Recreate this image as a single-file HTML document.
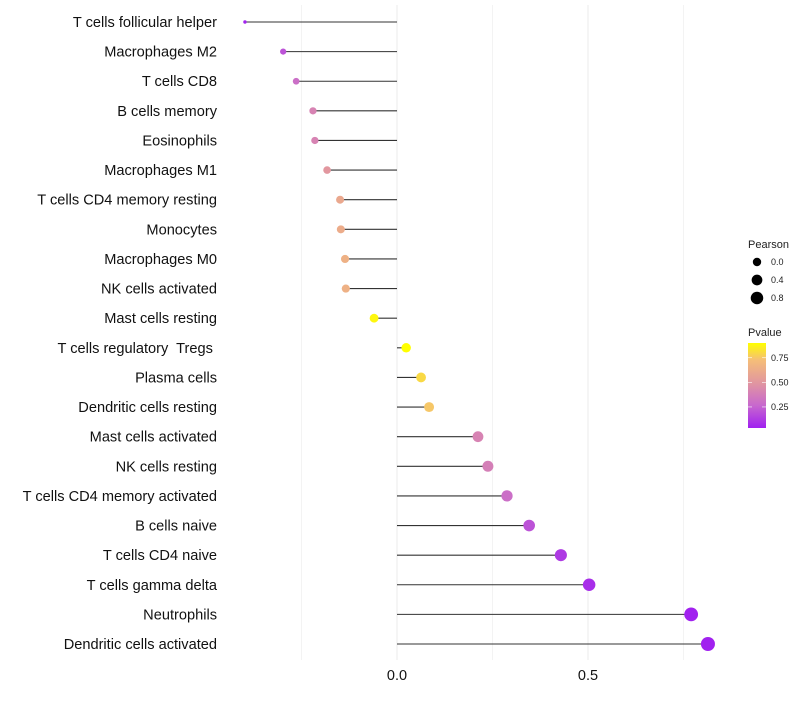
<!DOCTYPE html>
<html><head><meta charset="utf-8"><style>
body{margin:0;background:#fff;font-family:"Liberation Sans",sans-serif;}
text{white-space:pre;}
</style></head><body>
<svg id="c" width="800" height="700" xmlns="http://www.w3.org/2000/svg" font-family="Liberation Sans, sans-serif"></svg>
<script>
const categories=["T cells follicular helper","Macrophages M2","T cells CD8","B cells memory","Eosinophils","Macrophages M1","T cells CD4 memory resting","Monocytes","Macrophages M0","NK cells activated","Mast cells resting","T cells regulatory  Tregs ","Plasma cells","Dendritic cells resting","Mast cells activated","NK cells resting","T cells CD4 memory activated","B cells naive","T cells CD4 naive","T cells gamma delta","Neutrophils","Dendritic cells activated"];
const pearson=[-0.398,-0.298,-0.264,-0.220,-0.215,-0.183,-0.149,-0.147,-0.136,-0.134,-0.060,0.024,0.063,0.084,0.212,0.238,0.288,0.346,0.429,0.503,0.770,0.814];
const pvalue=[0.05,0.2,0.3,0.4,0.4,0.5,0.6,0.62,0.65,0.65,0.88,0.9,0.8,0.75,0.4,0.38,0.3,0.2,0.12,0.08,0.04,0.04];
const xTicks=[0,0.5];
const xTickLabels=["0.0","0.5"];
const gridVals=[-0.25,0,0.25,0.5,0.75];
const sizeLegend=[0.0,0.4,0.8];
const colorTicks=[0.25,0.5,0.75];
const svg=document.getElementById('c');const NS="http://www.w3.org/2000/svg";
function mk(t,a,p){const e=document.createElementNS(NS,t);for(const k in a)e.setAttribute(k,a[k]);(p||svg).appendChild(e);return e;}
const x=v=>397+v*382;
const y=i=>22+i*(622/(categories.length-1));
const rad=v=>1.5+5.5*Math.sqrt(Math.max(0,(v+0.4)/1.214));
const pmin=0.036,pmax=0.9;
const stops=[[0,[160,32,240]],[0.27,[200,105,205]],[0.53,[225,150,160]],[0.8,[245,190,120]],[1,[255,255,0]]];
function col(p){let t=(p-pmin)/(pmax-pmin);t=Math.max(0,Math.min(1,t));
for(let k=1;k<stops.length;k++){if(t<=stops[k][0]){const [t0,a]=stops[k-1],[t1,b]=stops[k];const f=(t-t0)/(t1-t0);
return`rgb(${a.map((c,i)=>Math.round(c+(b[i]-c)*f)).join(',')})`;}}return'rgb(255,255,0)';}
gridVals.forEach(v=>{const g=mk('line',{x1:x(v),x2:x(v),y1:5,y2:660,stroke:'#ebebeb','stroke-width':v*4%2==0?1:0.6});
});
xTicks.forEach((v,i)=>{const t=mk('text',{x:x(v),y:680,'text-anchor':'middle','font-size':14.5,fill:'#111'});t.textContent=xTickLabels[i];
});
categories.forEach((c,i)=>{
const t=mk('text',{x:217,y:y(i)+5,'text-anchor':'end','font-size':14.6,fill:'#111'});t.textContent=c;

const l=mk('line',{x1:x(0),x2:x(pearson[i]),y1:y(i),y2:y(i),stroke:'#333','stroke-width':1.1});

const d=mk('circle',{cx:x(pearson[i]),cy:y(i),r:rad(pearson[i]),fill:col(pvalue[i])});

});
let t=mk('text',{x:748,y:248,'font-size':11,fill:'#222'});t.textContent='Pearson';

sizeLegend.forEach((v,i)=>{const cy=262+i*18;const c=mk('circle',{cx:757,cy:cy,r:rad(v)*0.9,fill:'#000'});

const tx=mk('text',{x:771,y:cy+3,'font-size':9,fill:'#222'});tx.textContent=v.toFixed(1);
});
t=mk('text',{x:748,y:336,'font-size':11,fill:'#222'});t.textContent='Pvalue';

const defs=mk('defs',{});const lg=mk('linearGradient',{id:'g',x1:0,y1:1,x2:0,y2:0},defs);
stops.forEach(s=>mk('stop',{offset:s[0],'stop-color':`rgb(${s[1].join(',')})`},lg));
const bar=mk('rect',{x:748,y:343,width:18,height:85,fill:'url(#g)'});

const cy=p=>428-(p-pmin)/(pmax-pmin)*85;
colorTicks.forEach(p=>{mk('line',{x1:748,x2:752,y1:cy(p),y2:cy(p),stroke:'#fff','stroke-width':0.6});mk('line',{x1:762,x2:766,y1:cy(p),y2:cy(p),stroke:'#fff','stroke-width':0.6});
const tx=mk('text',{x:771,y:cy(p)+3,'font-size':9,fill:'#222'});tx.textContent=p.toFixed(2);
});
</script>
</body></html>
